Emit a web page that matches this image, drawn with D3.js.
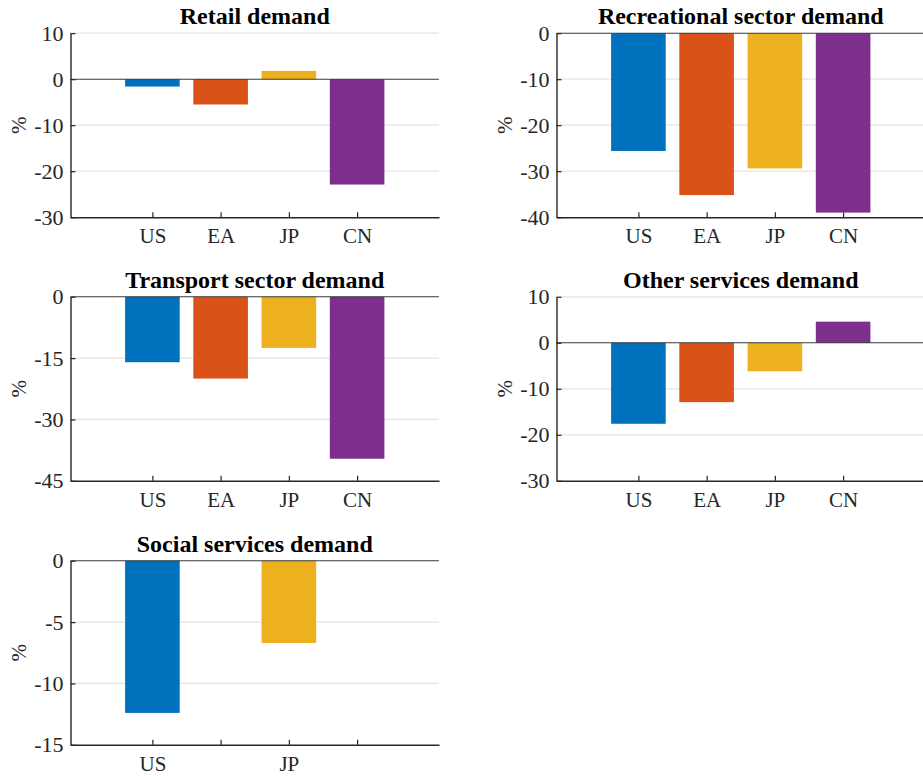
<!DOCTYPE html>
<html>
<head>
<meta charset="utf-8">
<script src="https://cdn.jsdelivr.net/npm/d3@7"></script>
<style>
  html, body { margin: 0; padding: 0; background: #fff; }
  svg { display: block; }
  text { font-family: "Liberation Serif", "Times New Roman", Times, serif; }
</style>
</head>
<body>
<svg id="chart" width="923" height="776"></svg>
<script>
// Change in demand by sector, % (US, euro area, Japan, China)
const regions = ["US", "EA", "JP", "CN"];
const socialLabels = ["US", "", "JP", ""];

const retail = [-1.6, -5.5, 1.8, -22.9];
const recreational = [-25.6, -35.2, -29.4, -39.0];
const transport = [-16.0, -20.0, -12.5, -39.6];
const otherServices = [-17.6, -12.9, -6.2, 4.6];
const socialServices = [-12.4, null, -6.7, null];

const retailTicks = [10, 0, -10, -20, -30];
const recreationalTicks = [0, -10, -20, -30, -40];
const transportTicks = [0, -15, -30, -45];
const otherTicks = [10, 0, -10, -20, -30];
const socialTicks = [0, -5, -10, -15];

const colors = ["#0072BD", "#D95319", "#EDB120", "#7E2F8E"];

const panels = [
  { title: "Retail demand", values: retail, ticks: retailTicks, labels: regions, col: 0, row: 0 },
  { title: "Recreational sector demand", values: recreational, ticks: recreationalTicks, labels: regions, col: 1, row: 0 },
  { title: "Transport sector demand", values: transport, ticks: transportTicks, labels: regions, col: 0, row: 1 },
  { title: "Other services demand", values: otherServices, ticks: otherTicks, labels: regions, col: 1, row: 1 },
  { title: "Social services demand", values: socialServices, ticks: socialTicks, labels: socialLabels, col: 0, row: 2 }
];

const svg = d3.select("#chart");
const plotW = 368.5, plotH = 184;
const colX = [70.5, 556.5];
const rowY = [33.2, 296.8, 560.8];
const axisColor = "#262626";

panels.forEach(p => {
  const g = svg.append("g")
    .attr("transform", `translate(${colX[p.col]},${rowY[p.row]})`);

  const x = d3.scaleLinear().domain([-0.2, 5.2]).range([0, plotW]);
  const y = d3.scaleLinear().domain([d3.min(p.ticks), d3.max(p.ticks)]).range([plotH, 0]);
  const barW = x(0.8) - x(0);

  // horizontal grid
  g.append("g").selectAll("line")
    .data(p.ticks.filter(t => t !== 0 && t !== d3.min(p.ticks)))
    .join("line")
    .attr("x1", 0).attr("x2", plotW)
    .attr("y1", d => y(d)).attr("y2", d => y(d))
    .attr("stroke", "#e3e3e3").attr("stroke-width", 1.3);

  // bars
  g.append("g").selectAll("rect")
    .data(p.values.map((v, i) => ({ v, i })).filter(d => d.v !== null))
    .join("rect")
    .attr("x", d => x(d.i + 1) - barW / 2)
    .attr("width", barW)
    .attr("y", d => y(Math.max(0, d.v)))
    .attr("height", d => Math.abs(y(d.v) - y(0)))
    .attr("fill", d => colors[d.i]);

  // zero baseline
  g.append("line")
    .attr("x1", 0).attr("x2", plotW)
    .attr("y1", y(0)).attr("y2", y(0))
    .attr("stroke", "#3a3a3a").attr("stroke-width", 1.1);

  // y axis
  const yAxis = d3.axisLeft(y).tickValues(p.ticks).tickFormat(d3.format("d"))
    .tickSizeInner(-5).tickSizeOuter(0).tickPadding(7);
  const ya = g.append("g").call(yAxis);
  ya.select(".domain").attr("stroke", axisColor).attr("stroke-width", 1.4);
  ya.selectAll(".tick line").attr("stroke", axisColor).attr("stroke-width", 1.2);
  ya.selectAll(".tick text")
    .attr("x", -7)
    .attr("font-size", 22).attr("fill", axisColor)
    .attr("font-family", "Liberation Serif, Times New Roman, serif")
    .text(d => d < 0 ? "-" + Math.abs(d) : d);

  // x axis
  const xAxis = d3.axisBottom(x).tickValues([1, 2, 3, 4])
    .tickFormat((d, i) => p.labels[i])
    .tickSizeInner(-5).tickSizeOuter(0).tickPadding(13);
  const xa = g.append("g").attr("transform", `translate(0,${plotH})`).call(xAxis);
  xa.select(".domain").attr("stroke", axisColor).attr("stroke-width", 1.4);
  xa.selectAll(".tick line").attr("stroke", axisColor).attr("stroke-width", 1.2);
  xa.selectAll(".tick text")
    .attr("y", 26).attr("dy", 0)
    .attr("font-size", 21).attr("fill", axisColor)
    .attr("font-family", "Liberation Serif, Times New Roman, serif");

  // y label
  g.append("text")
    .attr("transform", `translate(-45,${plotH / 2}) rotate(-90)`)
    .attr("text-anchor", "middle")
    .attr("font-size", 21).attr("fill", axisColor)
    .text("%");

  // title
  g.append("text")
    .attr("x", plotW / 2).attr("y", -9)
    .attr("text-anchor", "middle")
    .attr("font-size", 24).attr("font-weight", "bold").attr("fill", "#000")
    .text(p.title);
});
</script>
</body>
</html>
